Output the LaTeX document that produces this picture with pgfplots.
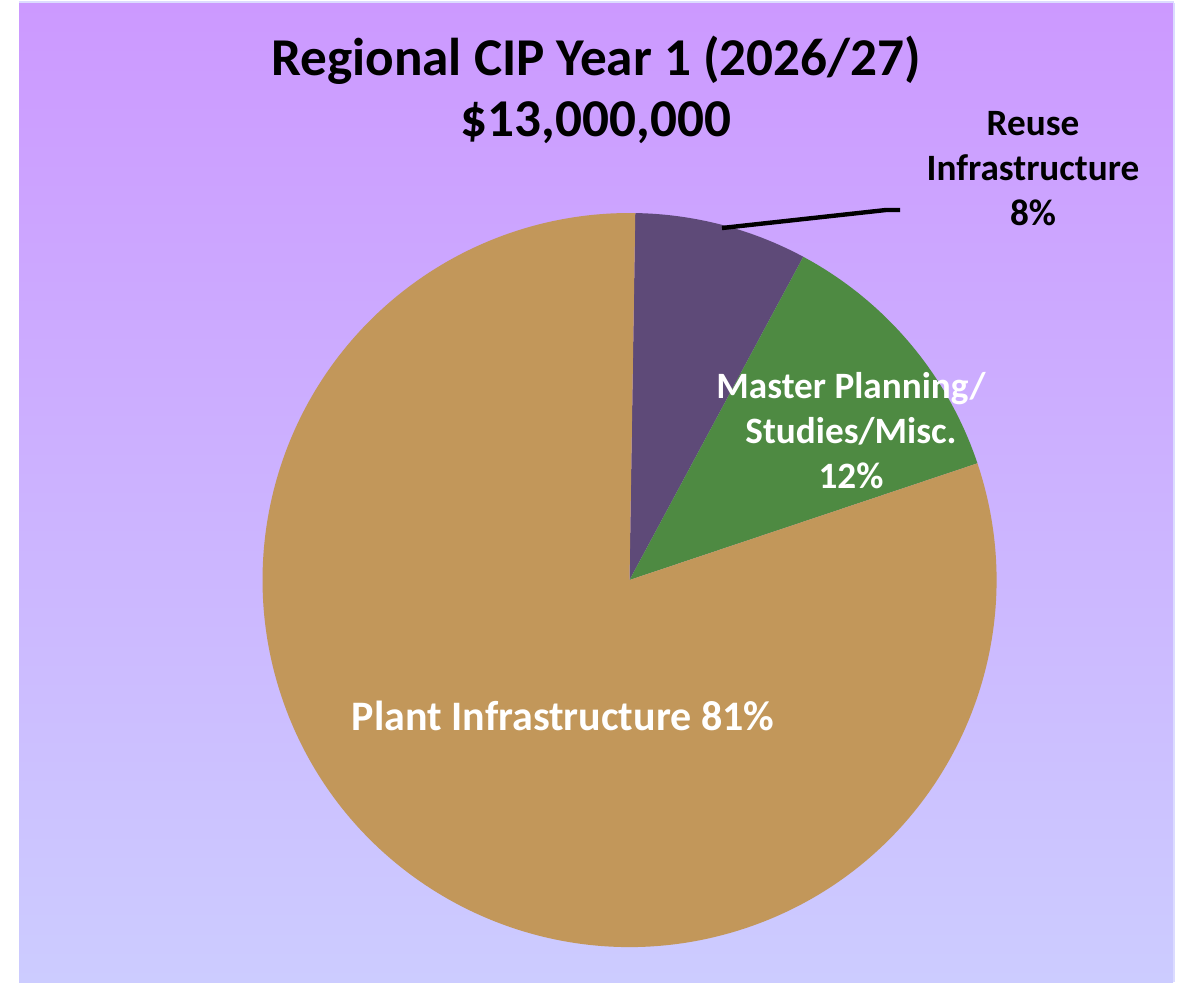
\documentclass[border=0pt]{standalone}
\usepackage{pgfplots}
\pgfplotsset{compat=1.18}
\usepackage{fontspec}
\setmainfont{Carlito}
\definecolor{reuse}{RGB}{94,74,120}
\definecolor{master}{RGB}{78,138,66}
\definecolor{plant}{RGB}{194,151,90}
\definecolor{bgtop}{RGB}{204,153,255}
\definecolor{bgbot}{RGB}{204,204,255}
\definecolor{edge}{RGB}{220,220,255}
% shares (percent) of the Year 1 CIP
\def\vReuse{7.6}
\def\vMaster{12.0}
\def\vPlant{80.4}
\begin{document}
\begin{tikzpicture}
\pgfmathsetmacro\aA{89.1}
\pgfmathsetmacro\aB{\aA-3.6*\vReuse}
\pgfmathsetmacro\aC{\aB-3.6*\vMaster}
\pgfmathsetmacro\aD{\aC-3.6*\vPlant}
\def\R{183.5pt}
\newcommand\lab[1]{\fontsize{18.6}{22}\selectfont\bfseries #1}
\begin{axis}[width=591.5pt,height=491pt,scale only axis,hide axis,
  xmin=0,xmax=1183,ymin=0,ymax=982,y dir=reverse,clip=false]
\path (axis cs:0,0) rectangle (axis cs:1183,982);
\shade[top color=bgtop,bottom color=bgbot] (axis cs:19,3) rectangle (axis cs:1173,982);
\draw[edge,line width=0.8pt] (axis cs:1174,3) -- (axis cs:1174,982);
\draw[edge,line width=0.8pt] (axis cs:19,2) -- (axis cs:1174,2);
\fill[reuse] (axis cs:629.5,580) -- ++(\aA:\R) arc[start angle=\aA,end angle=\aB,radius=\R] -- cycle;
\fill[master] (axis cs:629.5,580) -- ++(\aB:\R) arc[start angle=\aB,end angle=\aC,radius=\R] -- cycle;
\fill[plant] (axis cs:629.5,580) -- ++(\aC:\R) arc[start angle=\aC,end angle=\aD,radius=\R] -- cycle;
\draw[line width=2.2pt] (axis cs:722,228) -- (axis cs:886,210) -- (axis cs:900,210);
\node[anchor=base,inner sep=0pt] at (axis cs:596,75) {\fontsize{26.6}{30}\selectfont\bfseries Regional CIP Year 1 (2026/27)};
\node[anchor=base,inner sep=0pt] at (axis cs:596,136) {\fontsize{26.6}{30}\selectfont\bfseries \$13,000,000};
\node[anchor=base,inner sep=0pt] at (axis cs:1033,135) {\lab{Reuse}};
\node[anchor=base,inner sep=0pt] at (axis cs:1033,180) {\lab{Infrastructure}};
\node[anchor=base,inner sep=0pt] at (axis cs:1033,225) {\lab{8\%}};
\node[anchor=base,inner sep=0pt,white] at (axis cs:851,398) {\lab{Master Planning/}};
\node[anchor=base,inner sep=0pt,white] at (axis cs:851,443) {\lab{Studies/Misc.}};
\node[anchor=base,inner sep=0pt,white] at (axis cs:851,488) {\lab{12\%}};
\node[anchor=base,inner sep=0pt,white] at (axis cs:563,730) {\fontsize{21}{25}\selectfont\bfseries Plant Infrastructure 81\%};
\end{axis}
\end{tikzpicture}
\end{document}
